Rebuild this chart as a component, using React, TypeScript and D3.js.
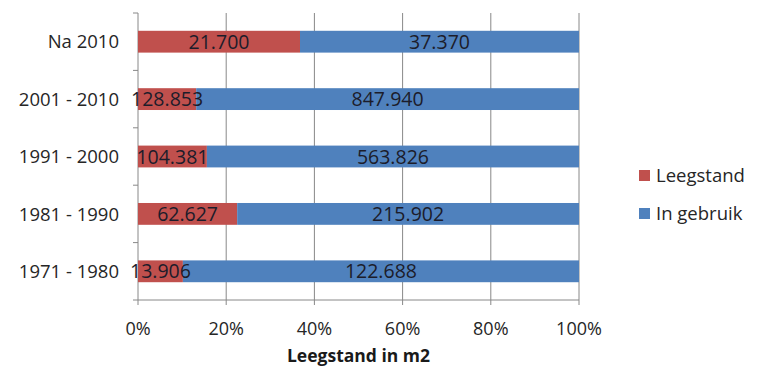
import React from "react";
import * as d3 from "d3";

// Floor space (m2) per construction period: vacant vs. in use
const categories = ["Na 2010", "2001 - 2010", "1991 - 2000", "1981 - 1990", "1971 - 1980"];
const leegstand = [21700, 128853, 104381, 62627, 13906];
const inGebruik = [37370, 847940, 563826, 215902, 122688];
const seriesNames = ["Leegstand", "In gebruik"];
const seriesColors = ["#C0504D", "#4F81BD"];
const xTicks = [0, 0.2, 0.4, 0.6, 0.8, 1];
const axisTitle = "Leegstand in m2";

const W = 758;
const H = 372;
const margin = { left: 138, right: 179, top: 13, bottom: 72 };
const FONT = "'Open Sans', sans-serif";

const fmt = (v: number) => d3.format(",")(v).replace(/,/g, ".");

export default function App() {
  const rows = categories.map((c, i) => ({ cat: c, Leegstand: leegstand[i], "In gebruik": inGebruik[i] }));
  const stacked = d3.stack<any>().keys(seriesNames).offset(d3.stackOffsetExpand)(rows);

  const x = d3.scaleLinear().domain([0, 1]).range([margin.left, W - margin.right]);
  const y = d3.scaleBand<string>().domain(categories).range([margin.top, H - margin.bottom]).padding(0);
  const barH = y.bandwidth() * 0.38;
  const y0 = margin.top;
  const y1 = H - margin.bottom;

  return (
    <svg width={W} height={H} style={{ position: "absolute", left: 0, top: 0, background: "#fff" }} fontFamily={FONT}>
      {/* vertical gridlines */}
      {xTicks.map((t) => (
        <line key={"g" + t} x1={x(t)} x2={x(t)} y1={y0} y2={y1 + 5} stroke="#888" strokeWidth={1} />
      ))}
      {/* category axis ticks */}
      {categories.map((c, i) => (
        <line key={"ct" + i} x1={margin.left - 5} x2={margin.left} y1={(y(c) as number) + y.bandwidth()} y2={(y(c) as number) + y.bandwidth()} stroke="#888" />
      ))}
      <line x1={margin.left - 5} x2={margin.left} y1={y0} y2={y0} stroke="#888" />
      {/* baseline axis */}
      <line x1={margin.left} x2={x(1)} y1={y1} y2={y1} stroke="#888" />

      {/* bars */}
      {stacked.map((s, si) =>
        s.map((d, i) => {
          const cy = (y(categories[i]) as number) + y.bandwidth() / 2;
          return (
            <rect
              key={si + "-" + i}
              x={x(d[0])}
              width={x(d[1]) - x(d[0])}
              y={cy - barH / 2}
              height={barH}
              fill={seriesColors[si]}
            />
          );
        })
      )}

      {/* value labels */}
      {stacked.map((s, si) =>
        s.map((d, i) => {
          const cy = (y(categories[i]) as number) + y.bandwidth() / 2;
          const val = si === 0 ? leegstand[i] : inGebruik[i];
          return (
            <text
              key={"l" + si + "-" + i}
              x={(x(d[0]) + x(d[1])) / 2}
              y={cy}
              dy="0.36em"
              textAnchor="middle"
              fontSize={19.5}
              fill="#1c1c2a"
            >
              {fmt(val)}
            </text>
          );
        })
      )}

      {/* category labels */}
      {categories.map((c) => (
        <text
          key={"c" + c}
          x={margin.left - 19}
          y={(y(c) as number) + y.bandwidth() / 2}
          dy="0.36em"
          textAnchor="end"
          fontSize={18.5}
          fill="#262626"
        >
          {c}
        </text>
      ))}

      {/* x tick labels */}
      {xTicks.map((t) => (
        <text key={"xt" + t} x={x(t)} y={335} textAnchor="middle" fontSize={18} fill="#262626">
          {d3.format(".0%")(t)}
        </text>
      ))}

      {/* axis title */}
      <text x={(x(0) + x(1)) / 2} y={362} textAnchor="middle" fontSize={17.5} fontWeight="bold" fill="#1a1a1a">
        {axisTitle}
      </text>

      {/* legend */}
      {seriesNames.map((n, i) => (
        <g key={"lg" + n} transform={`translate(639, ${170 + i * 38})`}>
          <rect width={11} height={11} fill={seriesColors[i]} />
          <text x={17} y={12} fontSize={18.5} fill="#262626">
            {n}
          </text>
        </g>
      ))}
    </svg>
  );
}
